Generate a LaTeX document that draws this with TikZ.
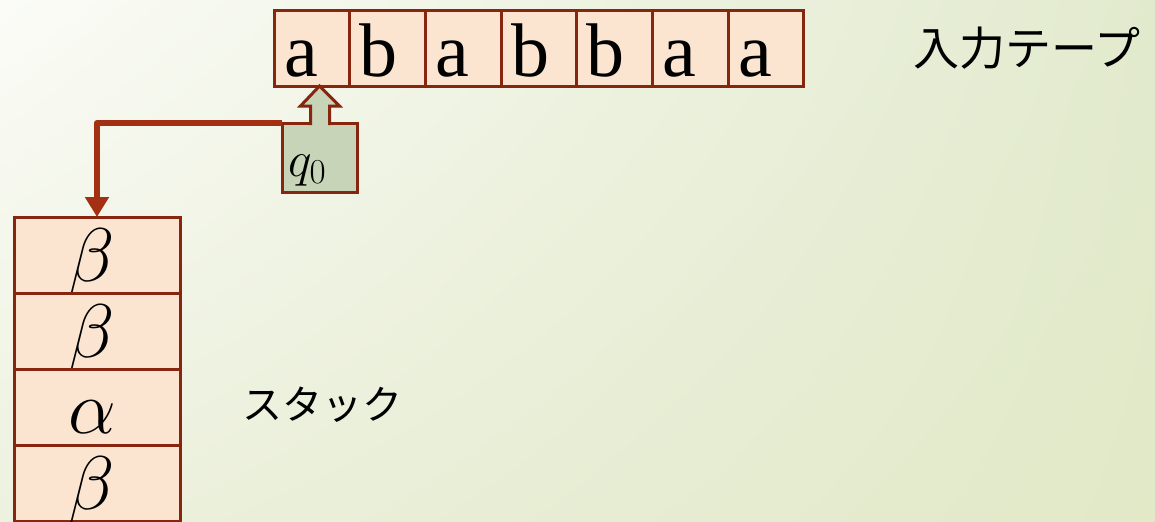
\RequirePackage{fix-cm}
\documentclass[tikz,border=0pt]{standalone}
\usepackage{fontspec}
\setmainfont{Liberation Serif}
\newfontfamily\jpfont{Noto Sans CJK JP}
\usepackage{xcolor}
\usepackage{tikz}
\usetikzlibrary{positioning, arrows.meta, shadings}
\definecolor{cellfill}{HTML}{FBE5D1}
\definecolor{cellline}{HTML}{86260E}
\definecolor{headfill}{HTML}{C8D4B8}
\definecolor{arrowred}{HTML}{A33013}
\definecolor{bgul}{HTML}{FBFCF7}
\definecolor{bgur}{HTML}{E2EACE}
\definecolor{bgll}{HTML}{EDF1DF}
\definecolor{bglr}{HTML}{E1E9C7}

\begin{document}
\begin{tikzpicture}[x=0.5pt, y=-0.5pt, node distance=0pt]
        \tikzstyle{cell} = [rectangle, draw=cellline, fill=cellfill, line width=1.5pt, minimum width=37.85pt, minimum height=38pt, inner ysep=0pt, inner xsep=5pt, outer sep=0pt, text width=27.85pt, align=left, text height=28pt, text depth=0pt, font=\fontsize{38}{42}\selectfont]
        \tikzstyle{slot} = [cell, minimum width=83pt, inner xsep=27pt, text width=29pt, text height=26pt, font=\fontsize{38}{42}\selectfont]
        \tikzstyle{headbox} = [rectangle, draw=cellline, fill=headfill, line width=1.5pt, minimum width=37.5pt, minimum height=34.5pt, inner ysep=0pt, inner xsep=3pt, outer sep=0pt, text width=31.5pt, align=left, text height=18.5pt, text depth=0pt, font=\fontsize{25}{28}\selectfont]
        \tikzstyle{jplabel} = [font=\jpfont\fontsize{23}{28}\selectfont]
        \tikzstyle{arrow} = [line width=3pt, draw=arrowred, -{Triangle[width=11.5pt, length=10pt]}, line join=round]

        % background
        \shade [upper left=bgul, upper right=bgur, lower left=bgll, lower right=bglr] (0,0) rectangle (1155,521);
        \useasboundingbox (0,0) rectangle (1155,521);

        % input tape
        \node [cell] (t1) at (311.85,48) {a};
        \node [cell, right=of t1] (t2) {b};
        \node [cell, right=of t2] (t3) {a};
        \node [cell, right=of t3] (t4) {b};
        \node [cell, right=of t4] (t5) {b};
        \node [cell, right=of t5] (t6) {a};
        \node [cell, right=of t6] (t7) {a};
        \node [jplabel] (tapelabel) at (1027,48) {入力テープ};

        % head
        \node [headbox] (head) at (319.5,157.5) {$q_0$};
        \path [fill=headfill, draw=cellline, line width=1.5pt, line join=miter]
              ([shift={(-9,2)}]head.north) -- ++(0,-19) -- ++(-10,0) -- (head.north |- t1.south)
              -- ++(20,20) -- ++(-10,0) -- ++(0,19);

        % stack
        \node [slot] (s1) at (97,255) {$\beta$};
        \node [slot, below=of s1] (s2) {$\beta$};
        \node [slot, below=of s2] (s3) {$\alpha$};
        \node [slot, below=of s3] (s4) {$\beta$};
        \node [jplabel, font=\jpfont\fontsize{20}{24}\selectfont] (stacklabel) at (322,405) {スタック};

        \draw [arrow] (head.north west) -| (s1.north);
    \end{tikzpicture}
\end{document}
